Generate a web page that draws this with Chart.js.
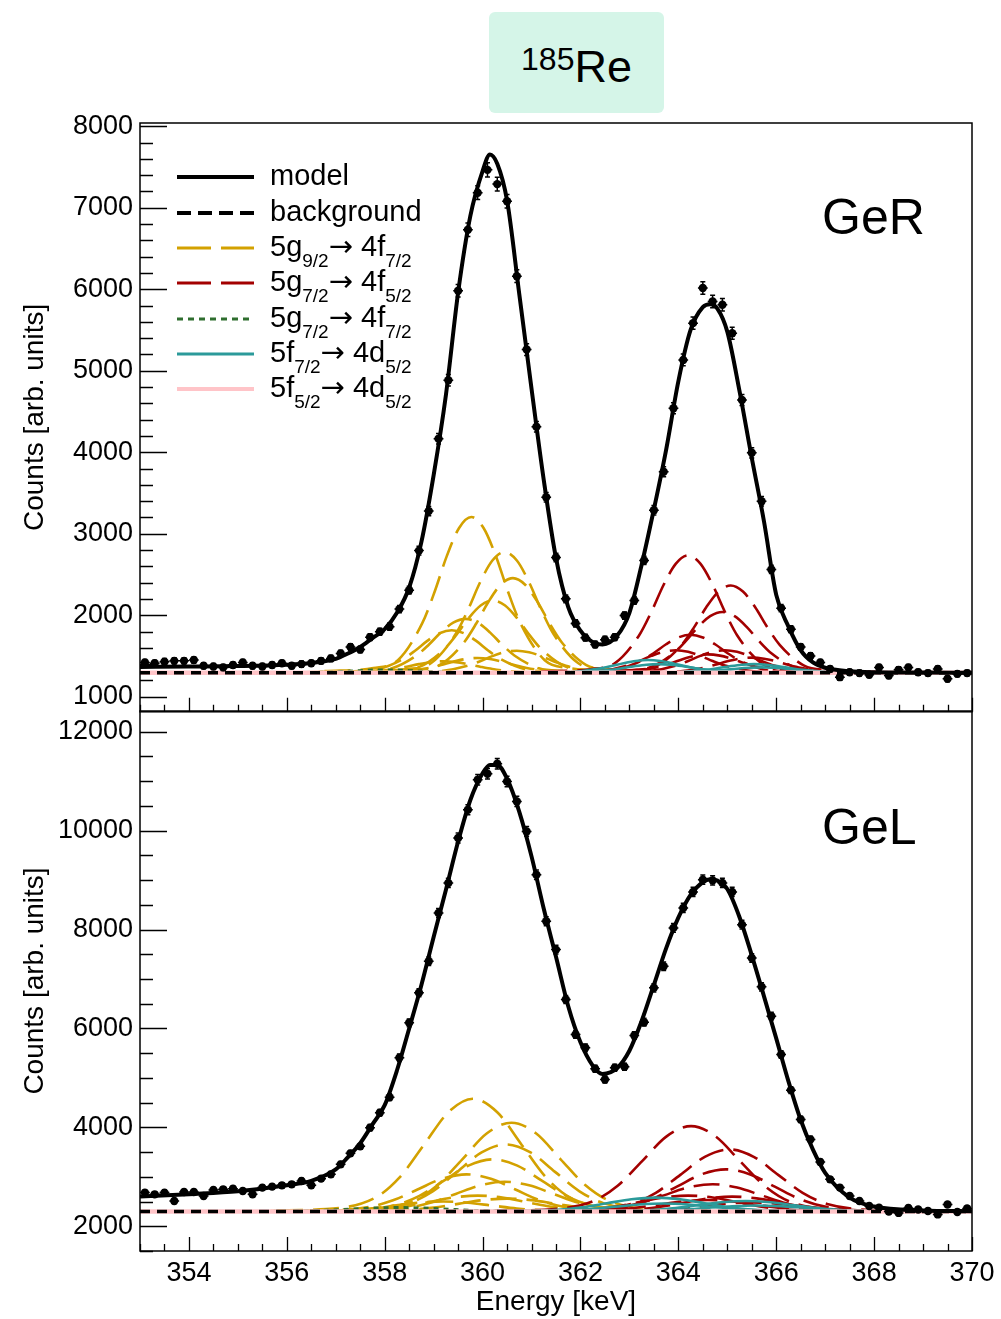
<!DOCTYPE html>
<html>
<head>
<meta charset="utf-8">
<script src="https://cdn.jsdelivr.net/npm/chart.js@4.4.1/dist/chart.umd.min.js"></script>
<style>
  body { margin: 0; background: #fff; width: 1001px; height: 1319px; position: relative; overflow: hidden;
         font-family: "Liberation Sans", Arial, Helvetica, sans-serif; color: #000; }
  canvas { position: absolute; left: 0; }
  #topChart { top: 100px; }
  #bottomChart { top: 700px; }
  #title { position: absolute; left: 489px; top: 12px; width: 175px; height: 101px; background: #d5f5e8; border-radius: 6px; }
  #titleText { position: absolute; left: 0; width: 175px; top: 32px; text-align: center; font-size: 45px; line-height: 45px; }
  #titleText .iso { font-size: 32px; vertical-align: 12px; line-height: 0; }
  .panel { position: absolute; left: 822px; font-size: 50px; line-height: 50px; }
  .row { position: absolute; left: 177px; height: 38px; width: 300px; font-size: 29px; line-height: 38px; white-space: nowrap; }
  .row svg { position: absolute; left: 0; top: 0; }
  .row span { position: absolute; left: 93px; top: -2px; }
  .row span.arr { position: static; font-family: "DejaVu Sans", sans-serif; font-size: 29px; }
  .row sub { font-size: 19px; vertical-align: -11px; line-height: 0; }
</style>
</head>
<body>
<div id="title"><div id="titleText"><span class="iso">185</span>Re</div></div>
<canvas id="topChart" width="1001" height="616"></canvas>
<canvas id="bottomChart" width="1001" height="619"></canvas>
<div class="panel" style="top:192px">GeR</div>
<div class="panel" style="top:802px">GeL</div>

<div class="row" style="top:158px"><svg width="80" height="38"><line x1="0" y1="19" x2="77" y2="19" stroke="#000" stroke-width="4"/></svg><span>model</span></div>
<div class="row" style="top:194px"><svg width="80" height="38"><line x1="0" y1="19" x2="77" y2="19" stroke="#000" stroke-width="4" stroke-dasharray="14 7"/></svg><span>background</span></div>
<div class="row" style="top:229px"><svg width="80" height="38"><line x1="0" y1="19" x2="77" y2="19" stroke="#d3a100" stroke-width="3" stroke-dasharray="34 10"/></svg><span>5g<sub>9/2</sub><span class="arr">→</span> 4f<sub>7/2</sub></span></div>
<div class="row" style="top:264px"><svg width="80" height="38"><line x1="0" y1="19" x2="77" y2="19" stroke="#a30000" stroke-width="3" stroke-dasharray="34 10"/></svg><span>5g<sub>7/2</sub><span class="arr">→</span> 4f<sub>5/2</sub></span></div>
<div class="row" style="top:300px"><svg width="80" height="38"><line x1="0" y1="19" x2="77" y2="19" stroke="#2f6e2f" stroke-width="3" stroke-dasharray="6 5"/></svg><span>5g<sub>7/2</sub><span class="arr">→</span> 4f<sub>7/2</sub></span></div>
<div class="row" style="top:335px"><svg width="80" height="38"><line x1="0" y1="19" x2="77" y2="19" stroke="#2b9a9a" stroke-width="3"/></svg><span>5f<sub>7/2</sub><span class="arr">→</span> 4d<sub>5/2</sub></span></div>
<div class="row" style="top:370px"><svg width="80" height="38"><line x1="0" y1="19" x2="77" y2="19" stroke="#ffc4c8" stroke-width="4"/></svg><span>5f<sub>5/2</sub><span class="arr">→</span> 4d<sub>5/2</sub></span></div>

<script>
// histogram binning (keV)
const binStart = 353.1, binWidth = 0.2;

// measured counts, GeR (top) and GeL (bottom)
const gerCounts = [1420, 1410, 1430, 1440, 1440, 1450, 1380, 1370, 1360, 1390,
  1420, 1380, 1370, 1390, 1410, 1380, 1400, 1410, 1440, 1470,
  1530, 1610, 1580, 1730, 1797, 1860, 2075, 2307, 2793, 3278,
  4165, 4883, 5981, 6730, 7185, 7465, 7290, 7080, 6160, 5260,
  4313, 3447, 2708, 2201, 1900, 1725, 1640, 1700, 1730, 1996,
  2181, 2673, 3288, 3760, 4539, 5133, 5584, 6015, 5850, 5809,
  5461, 4641, 3993, 3399, 2562, 2087, 1829, 1610, 1500, 1420,
  1340, 1240, 1300, 1290, 1270, 1360, 1260, 1330, 1360, 1300,
  1290, 1340, 1220, 1280, 1290];
const gelCounts = [2681, 2646, 2681, 2511, 2693, 2693, 2612, 2733, 2747, 2761,
  2713, 2646, 2782, 2802, 2828, 2848, 2916, 2828, 2963, 3050,
  3252, 3475, 3616, 3994, 4297, 4610, 5408, 6115, 6721, 7359,
  8337, 8943, 9852, 10423, 11029, 11151, 11353, 10995, 10591, 9985,
  9110, 8167, 7595, 6585, 5878, 5610, 5185, 4969, 5206, 5226,
  5858, 6127, 6822, 7258, 8034, 8438, 8761, 9009, 8995, 8943,
  8761, 8100, 7427, 6842, 6248, 5474, 4753, 4161, 3757, 3299,
  2949, 2782, 2612, 2511, 2410, 2377, 2300, 2270, 2370, 2340,
  2310, 2240, 2440, 2290, 2360];

// fitted model curve
const modelX = [353, 354, 355, 356, 356.5, 357, 357.25, 357.5, 357.75, 358, 358.25, 358.5, 358.75,
  359, 359.25, 359.5, 359.75, 360, 360.15, 360.3, 360.5, 360.75, 361, 361.25, 361.5, 361.75,
  362, 362.25, 362.45, 362.75, 363, 363.25, 363.5, 363.75, 364, 364.25, 364.5, 364.65, 364.8,
  365, 365.25, 365.5, 365.75, 366, 366.25, 366.5, 366.75, 367, 367.5, 368, 369, 370];
const gerModel = [1365, 1370, 1376, 1393, 1415, 1465, 1530, 1610, 1720, 1830, 2030, 2340, 2900,
  3720, 4700, 5960, 6900, 7450, 7654, 7540, 7090, 5940, 4780, 3660, 2700, 2100,
  1810, 1670, 1640, 1750, 2030, 2620, 3300, 4030, 4870, 5500, 5780, 5815, 5760,
  5480, 4750, 3930, 3150, 2250, 1860, 1570, 1420, 1355, 1312, 1300, 1296, 1293];
const gelModel = [2600, 2650, 2710, 2830, 2920, 3150, 3400, 3680, 4060, 4450, 5150, 6000, 6880,
  7850, 8800, 9780, 10620, 11160, 11330, 11330, 11050, 10380, 9480, 8420, 7450, 6450,
  5720, 5250, 5080, 5200, 5550, 6150, 6880, 7620, 8240, 8700, 8960, 9020, 8990,
  8820, 8250, 7480, 6650, 5800, 4930, 4150, 3550, 3080, 2580, 2400, 2320, 2305];

// background
const bgX = [353, 370];
const gerBackground = [1295, 1295];
const gelBackground = [2300, 2300];
const gerPink = [1295, 1295];
const gelPink = [2300, 2300];

// component lines: sample positions relative to each line centre (keV)
const gerOffsets = [-3, -2, -1.5, -1, -0.75, -0.5, -0.25, 0, 0.25, 0.5, 0.75, 1, 1.5, 2, 3];
const gelOffsets = [-4, -3, -2, -1.5, -1, -0.5, 0, 0.5, 1, 1.5, 2, 3, 4];

const gerGoldCenters = [359.77, 360.45, 360.62, 360.21, 359.65, 359.37, 360.7, 359.9, 359.2];
const gerGold = [
  [1314, 1352, 1448, 1906, 2288, 2728, 3071, 3205, 3071, 2728, 2288, 1906, 1448, 1352, 1314],
  [1310, 1339, 1413, 1769, 2065, 2405, 2671, 2775, 2671, 2405, 2065, 1769, 1413, 1339, 1310],
  [1307, 1330, 1388, 1666, 1898, 2165, 2374, 2455, 2374, 2165, 1898, 1666, 1388, 1330, 1307],
  [1304, 1322, 1366, 1579, 1756, 1960, 2119, 2181, 2119, 1960, 1756, 1579, 1366, 1322, 1304],
  [1302, 1315, 1348, 1506, 1638, 1790, 1909, 1955, 1909, 1790, 1638, 1506, 1348, 1315, 1302],
  [1300, 1311, 1337, 1461, 1565, 1685, 1779, 1815, 1779, 1685, 1565, 1461, 1337, 1311, 1300],
  [1298, 1303, 1317, 1381, 1435, 1498, 1546, 1565, 1546, 1498, 1435, 1381, 1317, 1303, 1298],
  [1297, 1300, 1309, 1353, 1389, 1430, 1462, 1475, 1462, 1430, 1389, 1353, 1309, 1300, 1297],
  [1296, 1299, 1306, 1340, 1368, 1400, 1425, 1435, 1425, 1400, 1368, 1340, 1306, 1299, 1296]
];
const gerRedCenters = [364.2, 365.07, 364.9, 364.25, 363.95, 364.95, 365.5, 364.6];
const gerRed = [
  [1309, 1338, 1410, 1755, 2043, 2374, 2633, 2734, 2633, 2374, 2043, 1755, 1410, 1338, 1309],
  [1306, 1327, 1381, 1637, 1851, 2098, 2290, 2365, 2290, 2098, 1851, 1637, 1381, 1327, 1306],
  [1302, 1317, 1355, 1533, 1682, 1854, 1988, 2040, 1988, 1854, 1682, 1533, 1355, 1317, 1302],
  [1300, 1309, 1332, 1444, 1537, 1644, 1727, 1760, 1727, 1644, 1537, 1444, 1332, 1309, 1300],
  [1298, 1303, 1317, 1383, 1438, 1501, 1551, 1570, 1551, 1501, 1438, 1383, 1317, 1303, 1298],
  [1298, 1303, 1317, 1383, 1438, 1501, 1551, 1570, 1551, 1501, 1438, 1383, 1317, 1303, 1298],
  [1297, 1301, 1310, 1354, 1391, 1434, 1467, 1480, 1467, 1434, 1391, 1354, 1310, 1301, 1297],
  [1297, 1302, 1313, 1367, 1412, 1464, 1504, 1520, 1504, 1464, 1412, 1367, 1313, 1302, 1297]
];
const gerTealCenters = [363.38, 365.55, 363.6, 365.7];
const gerTeal = [
  [1297, 1300, 1307, 1345, 1376, 1411, 1439, 1450, 1439, 1411, 1376, 1345, 1307, 1300, 1297],
  [1296, 1298, 1303, 1329, 1350, 1374, 1393, 1400, 1393, 1374, 1350, 1329, 1303, 1298, 1296],
  [1296, 1298, 1303, 1329, 1350, 1374, 1393, 1400, 1393, 1374, 1350, 1329, 1303, 1298, 1296],
  [1296, 1297, 1300, 1316, 1329, 1344, 1355, 1360, 1355, 1344, 1329, 1316, 1300, 1297, 1296]
];
const gerGreenCenters = [358.0];
const gerGreen = [
  [1295, 1296, 1298, 1306, 1313, 1321, 1328, 1330, 1328, 1321, 1313, 1306, 1298, 1296, 1295]
];

const gelGoldCenters = [359.8, 360.59, 360.48, 360.21, 359.67, 360.45, 359.9, 360.5, 359.2];
const gelGold = [
  [2323, 2346, 2574, 2984, 3645, 4306, 4580, 4306, 3645, 2984, 2574, 2346, 2323],
  [2318, 2336, 2515, 2839, 3359, 3880, 4095, 3880, 3359, 2839, 2515, 2336, 2318],
  [2314, 2327, 2463, 2707, 3100, 3493, 3656, 3493, 3100, 2707, 2463, 2327, 2314],
  [2311, 2321, 2426, 2616, 2921, 3227, 3353, 3227, 2921, 2616, 2426, 2321, 2311],
  [2308, 2315, 2390, 2525, 2743, 2960, 3050, 2960, 2743, 2525, 2390, 2315, 2308],
  [2306, 2312, 2372, 2480, 2654, 2828, 2900, 2828, 2654, 2480, 2372, 2312, 2306],
  [2303, 2306, 2338, 2396, 2489, 2582, 2620, 2582, 2489, 2396, 2338, 2306, 2303],
  [2303, 2305, 2331, 2378, 2453, 2529, 2560, 2529, 2453, 2378, 2331, 2305, 2303],
  [2302, 2304, 2324, 2360, 2418, 2476, 2500, 2476, 2418, 2360, 2324, 2304, 2302]
];
const gelRedCenters = [364.26, 365.04, 364.97, 364.7, 364.2, 365.1, 365.5, 364.6];
const gelRed = [
  [2317, 2335, 2507, 2818, 3318, 3819, 4026, 3819, 3318, 2818, 2507, 2335, 2317],
  [2313, 2325, 2451, 2677, 3040, 3404, 3555, 3404, 3040, 2677, 2451, 2325, 2313],
  [2309, 2317, 2402, 2555, 2802, 3049, 3151, 3049, 2802, 2555, 2402, 2317, 2309],
  [2306, 2311, 2366, 2465, 2625, 2784, 2850, 2784, 2625, 2465, 2366, 2311, 2306],
  [2303, 2306, 2338, 2396, 2489, 2582, 2620, 2582, 2489, 2396, 2338, 2306, 2303],
  [2303, 2306, 2336, 2390, 2477, 2564, 2600, 2564, 2477, 2390, 2336, 2306, 2303],
  [2302, 2304, 2322, 2354, 2406, 2458, 2480, 2458, 2406, 2354, 2322, 2304, 2302],
  [2302, 2305, 2328, 2369, 2436, 2502, 2530, 2502, 2436, 2369, 2328, 2305, 2302]
];
const gelTealCenters = [363.54, 365.38, 363.7, 365.6];
const gelTeal = [
  [2303, 2306, 2334, 2384, 2465, 2546, 2580, 2546, 2465, 2384, 2334, 2306, 2303],
  [2302, 2304, 2325, 2363, 2424, 2485, 2510, 2485, 2424, 2363, 2325, 2304, 2302],
  [2302, 2303, 2319, 2348, 2394, 2441, 2460, 2441, 2394, 2348, 2319, 2303, 2302],
  [2301, 2302, 2314, 2336, 2371, 2406, 2420, 2406, 2371, 2336, 2314, 2302, 2301]
];
const gelGreenCenters = [358.3];
const gelGreen = [
  [2301, 2302, 2310, 2324, 2347, 2370, 2380, 2370, 2347, 2324, 2310, 2302, 2301]
];

// tick labels
const xTicks = [354, 356, 358, 360, 362, 364, 366, 368, 370];
const gerYTicks = [1000, 2000, 3000, 4000, 5000, 6000, 7000, 8000];
const gelYTicks = [2000, 4000, 6000, 8000, 10000, 12000];

const GOLD = '#d3a100', RED = '#a30000', GREEN = '#2f6e2f', TEAL = '#2b9a9a', PINK = '#ffc4c8';
const FONT = '"Liberation Sans", Arial, Helvetica, sans-serif';

function line(points, color, width, dash) {
  return {
    data: points, showLine: true, pointRadius: 0, borderColor: color, borderWidth: width,
    borderDash: dash, cubicInterpolationMode: 'monotone', fill: false
  };
}

function pairs(xs, ys) { return xs.map((x, i) => ({x: x, y: ys[i]})); }

function buildDatasets(counts, model, bg, pink, offsets, groups) {
  const sets = [];
  sets.push({
    data: counts.map((c, i) => ({x: binStart + i * binWidth, y: c})),
    showLine: false, pointRadius: 4.2, pointBackgroundColor: '#000', pointBorderWidth: 0
  });
  sets.push(line(pairs(modelX, model), '#000', 4, []));
  sets.push(line(pairs(bgX, bg), '#000', 3.5, [10, 7]));
  sets.push(line(pairs(bgX, pink), PINK, 4.5, []));
  groups.forEach(g => {
    g.vals.forEach((v, k) => {
      sets.push(line(offsets.map((o, i) => ({x: g.centers[k] + o, y: v[i]})), g.color, g.width, g.dash));
    });
  });
  return sets;
}

// ROOT style frame with ticks pointing inwards
const frameTicks = {
  id: 'frameTicks',
  afterDraw(chart, args, opts) {
    const {ctx, chartArea: a} = chart;
    const x = chart.scales.x, y = chart.scales.y;
    ctx.save();
    ctx.strokeStyle = '#000';
    ctx.lineWidth = 1.5;
    ctx.strokeRect(a.left, a.top, a.right - a.left, a.bottom - a.top);
    ctx.lineWidth = 1.3;
    ctx.beginPath();
    for (let n = Math.ceil(x.min / opts.xMinor); n * opts.xMinor <= x.max + 1e-9; n++) {
      const v = n * opts.xMinor;
      const px = Math.round(x.getPixelForValue(v)) + 0.5;
      const major = Math.abs(v / opts.xMajor - Math.round(v / opts.xMajor)) < 1e-6;
      ctx.moveTo(px, a.bottom);
      ctx.lineTo(px, a.bottom - (major ? 14 : 7));
    }
    for (let n = Math.ceil(y.min / opts.yMinor); n * opts.yMinor <= y.max; n++) {
      const v = n * opts.yMinor;
      const py = Math.round(y.getPixelForValue(v)) + 0.5;
      const major = v % opts.yMajor === 0;
      ctx.moveTo(a.left, py);
      ctx.lineTo(a.left + (major ? 27 : 13), py);
    }
    ctx.stroke();
    ctx.restore();
  }
};

// poisson error bars and bin-width bars on the data points
const errorBars = {
  id: 'errorBars',
  afterDatasetsDraw(chart) {
    const {ctx} = chart;
    const x = chart.scales.x, y = chart.scales.y;
    const a = chart.chartArea;
    ctx.save();
    ctx.beginPath();
    ctx.rect(a.left, a.top, a.right - a.left, a.bottom - a.top);
    ctx.clip();
    ctx.strokeStyle = '#000';
    ctx.lineWidth = 1.5;
    ctx.beginPath();
    chart.data.datasets[0].data.forEach(p => {
      const px = x.getPixelForValue(p.x), py = y.getPixelForValue(p.y);
      const e = Math.sqrt(p.y);
      const y1 = y.getPixelForValue(p.y + e), y2 = y.getPixelForValue(p.y - e);
      ctx.moveTo(x.getPixelForValue(p.x - binWidth / 2), py);
      ctx.lineTo(x.getPixelForValue(p.x + binWidth / 2), py);
      ctx.moveTo(px, y1); ctx.lineTo(px, y2);
      ctx.moveTo(px - 2.5, y1); ctx.lineTo(px + 2.5, y1);
      ctx.moveTo(px - 2.5, y2); ctx.lineTo(px + 2.5, y2);
    });
    ctx.stroke();
    ctx.restore();
  }
};

// keep the plot frame exactly where the layout padding puts it
function noLabelPadding(s) {
  s.paddingTop = 0; s.paddingBottom = 0; s.paddingLeft = 0; s.paddingRight = 0;
}

function yAxis(min, max, ticks) {
  return {
    type: 'linear', position: 'left', min: min, max: max,
    afterBuildTicks: s => { s.ticks = ticks.map(v => ({value: v})); },
    afterFit: s => { s.width = 140; noLabelPadding(s); },
    grid: {display: false, drawTicks: false},
    border: {display: false},
    ticks: {font: {family: FONT, size: 27}, color: '#000', padding: 7, callback: v => String(v)},
    title: {display: true, text: 'Counts [arb. units]', color: '#000', font: {family: FONT, size: 28}, padding: {top: 18, bottom: 0}}
  };
}

function groupsFor(gold, goldC, red, redC, teal, tealC, green, greenC) {
  return [
    {vals: green, centers: greenC, color: GREEN, width: 2.8, dash: [5, 5]},
    {vals: teal, centers: tealC, color: TEAL, width: 2.6, dash: []},
    {vals: red, centers: redC, color: RED, width: 2.6, dash: [26, 10]},
    {vals: gold, centers: goldC, color: GOLD, width: 2.6, dash: [26, 10]}
  ];
}

new Chart(document.getElementById('topChart'), {
  type: 'scatter',
  data: {
    datasets: buildDatasets(gerCounts, gerModel, gerBackground, gerPink, gerOffsets,
      groupsFor(gerGold, gerGoldCenters, gerRed, gerRedCenters, gerTeal, gerTealCenters, gerGreen, gerGreenCenters))
  },
  options: {
    responsive: false, animation: false,
    layout: {padding: {left: 0, right: 29, top: 23, bottom: 0}},
    plugins: {legend: {display: false}, tooltip: {enabled: false},
      frameTicks: {xMinor: 0.5, xMajor: 2, yMinor: 200, yMajor: 1000}},
    scales: {
      x: {type: 'linear', min: 353, max: 370, display: false},
      y: yAxis(815, 8040, gerYTicks)
    }
  },
  plugins: [frameTicks, errorBars]
});

new Chart(document.getElementById('bottomChart'), {
  type: 'scatter',
  data: {
    datasets: buildDatasets(gelCounts, gelModel, gelBackground, gelPink, gelOffsets,
      groupsFor(gelGold, gelGoldCenters, gelRed, gelRedCenters, gelTeal, gelTealCenters, gelGreen, gelGreenCenters))
  },
  options: {
    responsive: false, animation: false,
    layout: {padding: {left: 0, right: 29, top: 11, bottom: 0}},
    plugins: {legend: {display: false}, tooltip: {enabled: false},
      frameTicks: {xMinor: 0.5, xMajor: 2, yMinor: 500, yMajor: 2000}},
    scales: {
      x: {
        type: 'linear', position: 'bottom', min: 353, max: 370,
        afterBuildTicks: s => { s.ticks = xTicks.map(v => ({value: v})); },
        afterFit: s => { s.height = 68; noLabelPadding(s); },
        grid: {display: false, drawTicks: false},
        border: {display: false},
        ticks: {font: {family: FONT, size: 27}, color: '#000', padding: 6, autoSkip: false, maxRotation: 0, callback: v => String(v)},
        title: {display: true, text: 'Energy [keV]', color: '#000', font: {family: FONT, size: 28}, padding: {top: 0, bottom: 0}}
      },
      y: yAxis(1500, 12420, gelYTicks)
    }
  },
  plugins: [frameTicks, errorBars]
});
</script>
</body>
</html>
